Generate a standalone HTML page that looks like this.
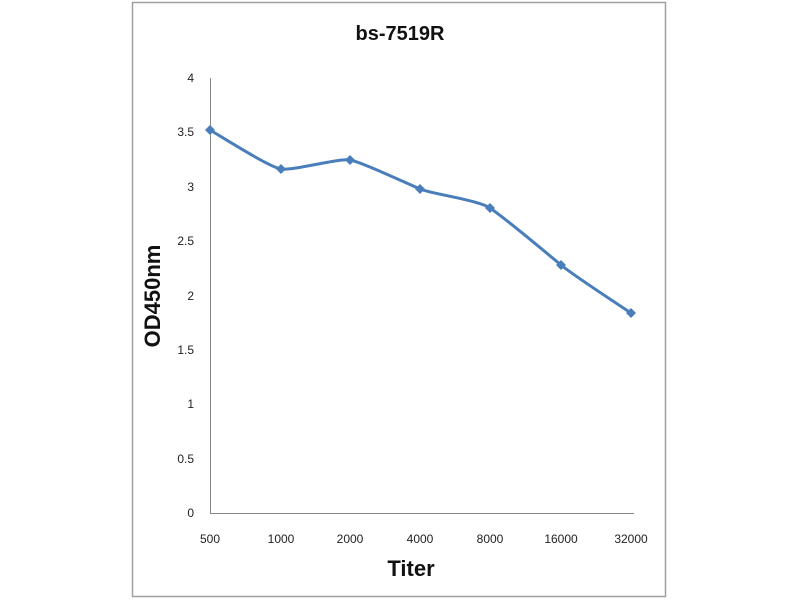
<!DOCTYPE html>
<html><head><style>body{margin:0;background:#fff}</style></head><body>
<svg width="800" height="600" xmlns="http://www.w3.org/2000/svg" font-family="Liberation Sans, sans-serif">
<rect x="0" y="0" width="800" height="600" fill="#fff"/>
<rect x="132.5" y="2.5" width="533" height="594" fill="#fff" stroke="#a0a0a0" stroke-width="1.5"/>
<text x="400" y="40" text-anchor="middle" font-size="20" font-weight="bold" fill="#111">bs-7519R</text>
<line x1="210.5" y1="78" x2="210.5" y2="513" stroke="#888" stroke-width="1"/>
<line x1="210" y1="513.5" x2="634" y2="513.5" stroke="#888" stroke-width="1"/>
<g font-size="12" fill="#222" text-anchor="end">
<text x="194" y="82">4</text><text x="194" y="136">3.5</text><text x="194" y="191">3</text>
<text x="194" y="245">2.5</text><text x="194" y="300">2</text><text x="194" y="354">1.5</text>
<text x="194" y="408">1</text><text x="194" y="463">0.5</text><text x="194" y="517">0</text>
</g>
<g font-size="12" fill="#222" text-anchor="middle">
<text x="210" y="543">500</text><text x="281" y="543">1000</text><text x="350" y="543">2000</text>
<text x="420" y="543">4000</text><text x="490" y="543">8000</text><text x="561" y="543">16000</text>
<text x="631" y="543">32000</text>
</g>
<text x="411" y="576" text-anchor="middle" font-size="22" font-weight="bold" fill="#111">Titer</text>
<text transform="translate(160,296) rotate(-90)" text-anchor="middle" font-size="22" font-weight="bold" fill="#111">OD450nm</text>
<path d="M210,130 C222,137 269,167 281,169 C293,171 338,158 350,160 C362,162 408,184 420,189 C432,194 478,200 490,208 C502,216 549,255 561,265 C573,275 619,305 631,313" fill="none" stroke="#4a7ebb" stroke-width="3"/>
<g fill="#4a7ebb">
<path d="M210,125 l5,5 l-5,5 l-5,-5z"/><path d="M281,164 l5,5 l-5,5 l-5,-5z"/>
<path d="M350,155 l5,5 l-5,5 l-5,-5z"/><path d="M420,184 l5,5 l-5,5 l-5,-5z"/>
<path d="M490,203 l5,5 l-5,5 l-5,-5z"/><path d="M561,260 l5,5 l-5,5 l-5,-5z"/>
<path d="M631,308 l5,5 l-5,5 l-5,-5z"/>
</g>
</svg>
</body></html>
